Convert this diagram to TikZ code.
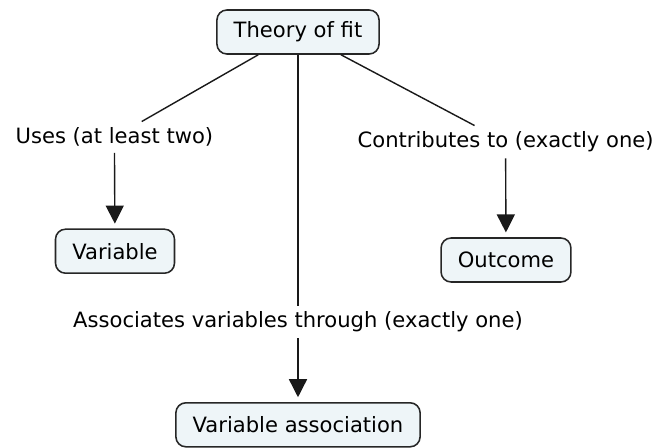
\documentclass[tikz,border=0pt]{standalone}
\usepackage{fontspec}
\setmainfont{DejaVu Sans}
\usetikzlibrary{arrows.meta}
\definecolor{conceptfill}{HTML}{EEF5F8}

\begin{document}
\begin{tikzpicture}[
		concept/.style={draw=black!85, line width=1.1pt, fill=conceptfill, rounded corners=0.25cm, minimum height=1.1cm, inner xsep=0.42cm, font=\fontsize{15}{18}\selectfont},
		phrase/.style={inner sep=0.15cm, font=\fontsize{15}{18}\selectfont},
		link/.style={line width=1pt, black!90},
		arr/.style={link, -{Triangle[width=0.45cm, length=0.45cm]}, shorten >=0.12cm}
	]
		%%%%% START %%%%%
		
		\useasboundingbox (0, 0) rectangle (16.675, -11.2);
		
		\node[concept] (theory) at (7.45, -0.8) {Theory of fit};
		
		\node[phrase] (uses) at (2.86, -3.43) {Uses (at least two)};
		\node[phrase] (contrib) at (12.64, -3.55) {Contributes to (exactly one)};
		\node[phrase] (assoc) at (7.45, -8.05) {Associates variables through (exactly one)};
		
		\node[concept] (variable) at (2.875, -6.28) {Variable};
		\node[concept] (outcome) at (12.65, -6.5) {Outcome};
		\node[concept] (varassoc) at (7.45, -10.62) {Variable association};
		
		\draw[link] (theory) -- (uses);
		\draw[link] (theory) -- (contrib);
		\draw[link] (theory) -- (assoc);
		
		\draw[arr] (uses) -- (variable);
		\draw[arr] (contrib) -- (outcome);
		\draw[arr] (assoc) -- (varassoc);
		
		%%%%% END %%%%%
	\end{tikzpicture}
\end{document}
